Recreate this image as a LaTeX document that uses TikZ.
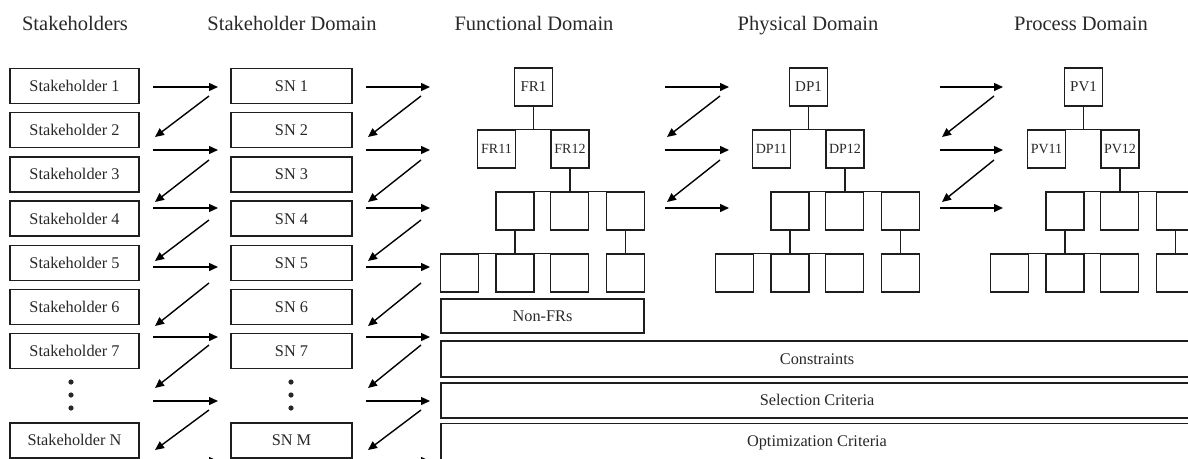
\documentclass[tikz,border=0pt]{standalone}
\usepackage{fontspec}
\setmainfont{Liberation Serif}
\usetikzlibrary{arrows.meta}
\definecolor{axdcolor0001}{RGB}{30,30,30}
\definecolor{axdcolor0002}{RGB}{40,40,40}

\begin{document}
\begin{tikzpicture}[yscale=-1,x=1pt,y=1pt
,ptitle/.style={color=axdcolor0002,inner sep=0,anchor=base,font=\fontsize{20.5}{24}\selectfont}
,pbox/.style={draw=axdcolor0001,line width=1.4pt,fill=white,inner sep=0,text=axdcolor0002,minimum height=35pt,text height=12pt,text depth=1.2pt,font=\fontsize{16.3}{19}\selectfont}
,pleaf/.style={draw=axdcolor0001,line width=1.4pt,fill=white,inner sep=0,text=axdcolor0002,minimum width=38pt,minimum height=38pt,font=\fontsize{14}{16}\selectfont}
,ptree/.style={color=axdcolor0001,line width=1.4pt}
,parrow/.style={color=black,line width=1.4pt,-{Triangle[length=9pt,width=8pt]}}
]
\useasboundingbox (0,0) rectangle (1188,458);
% titles
\node[ptitle] (tsh) at (75,30.5) {Stakeholders};
\node[ptitle] (tsd) at (292,30.5) {Stakeholder Domain};
\node[ptitle] (tfd) at (534,30.5) {Functional Domain};
\node[ptitle] (tpd) at (808,30.5) {Physical Domain};
\node[ptitle] (tpr) at (1081,30.5) {Process Domain};
% stakeholders and needs
\foreach \i in {1,...,7} {
  \node[pbox,minimum width=129pt] (sh\i) at (74.5,{86+44.2*(\i-1)}) {Stakeholder \i};
  \node[pbox,minimum width=121pt] (sn\i) at (291.5,{86+44.2*(\i-1)}) {SN \i};
}
\node[pbox,minimum width=129pt] (shN) at (74.5,440.5) {Stakeholder N};
\node[pbox,minimum width=121pt] (snM) at (291.5,440.5) {SN M};
\foreach \x in {71,291} \foreach \y in {382,395,408} \fill[axdcolor0002] (\x,\y) circle (2.6);
% zigzag arrows, long columns
\foreach \c/\xa/\xb in {a/153/218,b/366/430} {
  \foreach \y [count=\k] in {87,150,208,267,337,401,461} {
    \coordinate (\c-r\k-s) at (\xa,\y);
    \coordinate (\c-r\k-e) at (\xb,\y);
    \draw[parrow] (\c-r\k-s) -- (\c-r\k-e);
  }
  \foreach \ys/\ye [count=\k] in {96/137,160/202,220/261,283/326,345/388,410/450} {
    \coordinate (\c-d\k-s) at (\xb-9,\ys);
    \coordinate (\c-d\k-e) at (\xa+2,\ye);
    \draw[parrow] (\c-d\k-s) -- (\c-d\k-e);
  }
}
% zigzag arrows, short columns
\foreach \c/\xa/\xb in {c/665/729,d/940/1003} {
  \foreach \y [count=\k] in {87,150,208} {
    \coordinate (\c-r\k-s) at (\xa,\y);
    \coordinate (\c-r\k-e) at (\xb,\y);
    \draw[parrow] (\c-r\k-s) -- (\c-r\k-e);
  }
  \foreach \ys/\ye [count=\k] in {96/137,160/202} {
    \coordinate (\c-d\k-s) at (\xb-9,\ys);
    \coordinate (\c-d\k-e) at (\xa+2,\ye);
    \draw[parrow] (\c-d\k-s) -- (\c-d\k-e);
  }
}
% hierarchies
\foreach \dx/\dom in {0/FR,275/DP,550/PV} {
  \begin{scope}[xshift=\dx pt]
  \node[pleaf,font=\fontsize{15}{17}\selectfont] (\dom1) at (533.5,87) {\dom1};
  \node[pleaf] (\dom11) at (496.5,149) {\dom11};
  \node[pleaf] (\dom12) at (570,149) {\dom12};
  \node[pleaf] (\dom-a) at (515,211) {};
  \node[pleaf] (\dom-b) at (569.5,211) {};
  \node[pleaf] (\dom-c) at (625.5,211) {};
  \node[pleaf] (\dom-d) at (459.5,273) {};
  \node[pleaf] (\dom-e) at (515,273) {};
  \node[pleaf] (\dom-f) at (569.5,273) {};
  \node[pleaf] (\dom-g) at (625.5,273) {};
  \draw[ptree] (\dom1.south) -- (\dom1.south |- \dom11.north);
  \draw[ptree] (\dom11.north west) -- (\dom12.north east);
  \draw[ptree] (\dom12.south) -- (\dom12.south |- \dom-a.north);
  \draw[ptree] (\dom-a.north west) -- (\dom-c.north east);
  \draw[ptree] (\dom-a.south) -- (\dom-a.south |- \dom-d.north);
  \draw[ptree] (\dom-d.north west) -- (\dom-f.north east);
  \draw[ptree] (\dom-c.south) -- (\dom-g.north);
  \end{scope}
}
% requirement bands
\node[pbox,minimum width=203pt,minimum height=34pt] (nfr) at (542.5,316) {Non-FRs};
\node[pbox,minimum width=752pt,minimum height=36pt] (con) at (817,359) {Constraints};
\node[pbox,minimum width=752pt,minimum height=35pt] (sel) at (817,400.5) {Selection Criteria};
\node[pbox,minimum width=752pt,minimum height=36pt] (opt) at (817,441.5) {Optimization Criteria};
\end{tikzpicture}
\end{document}
